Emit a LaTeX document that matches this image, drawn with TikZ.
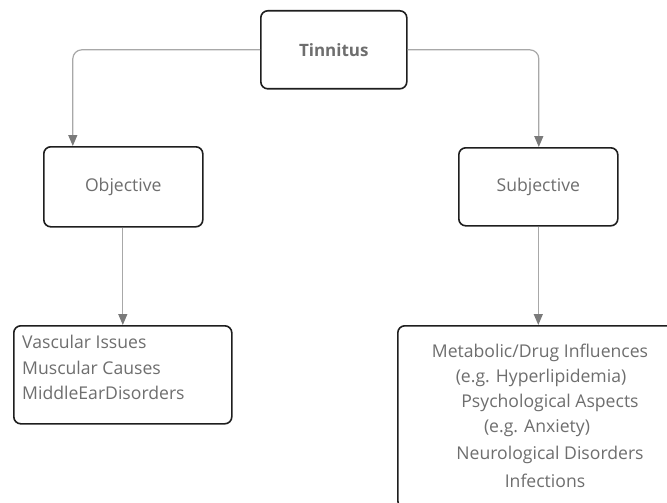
\documentclass[tikz,border=0pt]{standalone}
\usepackage{fontspec}
\setmainfont{Open Sans}
\usetikzlibrary{arrows.meta}
\definecolor{txt}{HTML}{6E6E6E}
\definecolor{edge}{HTML}{1E1E1E}
\definecolor{conn}{HTML}{A8A8A8}
\definecolor{tip}{HTML}{7A7A7A}
\tikzset{
  box/.style={draw=edge, line width=1.6pt, rounded corners=7pt, fill=white},
  lbl/.style={text=txt, font=\fontsize{17.6}{20}\selectfont, inner sep=0pt},
  link/.style={draw=conn, line width=1.2pt, rounded corners=9pt,
    -{Triangle[width=9pt,length=11pt,color=tip,fill=tip]}},
}
\begin{document}
\begin{tikzpicture}[x=1pt,y=-1pt]
\useasboundingbox (0,0) rectangle (667,503);
% boxes
\node[box, minimum width=146pt, minimum height=78pt, anchor=north west] (tin) at (260,10) {};
\node[box, minimum width=159pt, minimum height=80pt, anchor=north west] (obj) at (43,146) {};
\node[box, minimum width=159pt, minimum height=78pt, anchor=north west] (sub) at (458,147) {};
\node[box, minimum width=218pt, minimum height=98pt, anchor=north west] (objl) at (13,325) {};
\node[box, minimum width=276pt, minimum height=182pt, anchor=north west] (subl) at (397,325) {};
% texts
\node[lbl, font=\fontsize{17}{20}\selectfont\bfseries] (tint) at (tin.center) {Tinnitus};
\node[lbl] (objt) at (obj.center) {Objective};
\node[lbl] (subt) at (sub.center) {Subjective};
\node[lbl, anchor=west] (o1) at (22,342) {Vascular Issues};
\node[lbl, anchor=west] (o2) at (22,368) {Muscular Causes};
\node[lbl, anchor=west] (o3) at (22,393) {MiddleEarDisorders};
\node[lbl] (s1) at (540,353) {Metabolic/Drug Influences};
\node[lbl] (s2) at (541,378) {(e.g. Hyperlipidemia)};
\node[lbl] (s3) at (550,403) {Psychological Aspects};
\node[lbl] (s4) at (537,428) {(e.g. Anxiety)};
\node[lbl] (s5) at (550,455) {Neurological Disorders};
\node[lbl] (s6) at (545,481) {Infections};
% connectors
\path[link] (tin.west) -| ([xshift=-50.5pt]obj.north);
\path[link] (tin.east) -| ([xshift=0.5pt]sub.north);
\path[link] ([xshift=-0.5pt]obj.south) -- ([xshift=-0.5pt]obj.south |- objl.north);
\path[link] (sub.south) -- (sub.south |- subl.north);
\end{tikzpicture}
\end{document}
